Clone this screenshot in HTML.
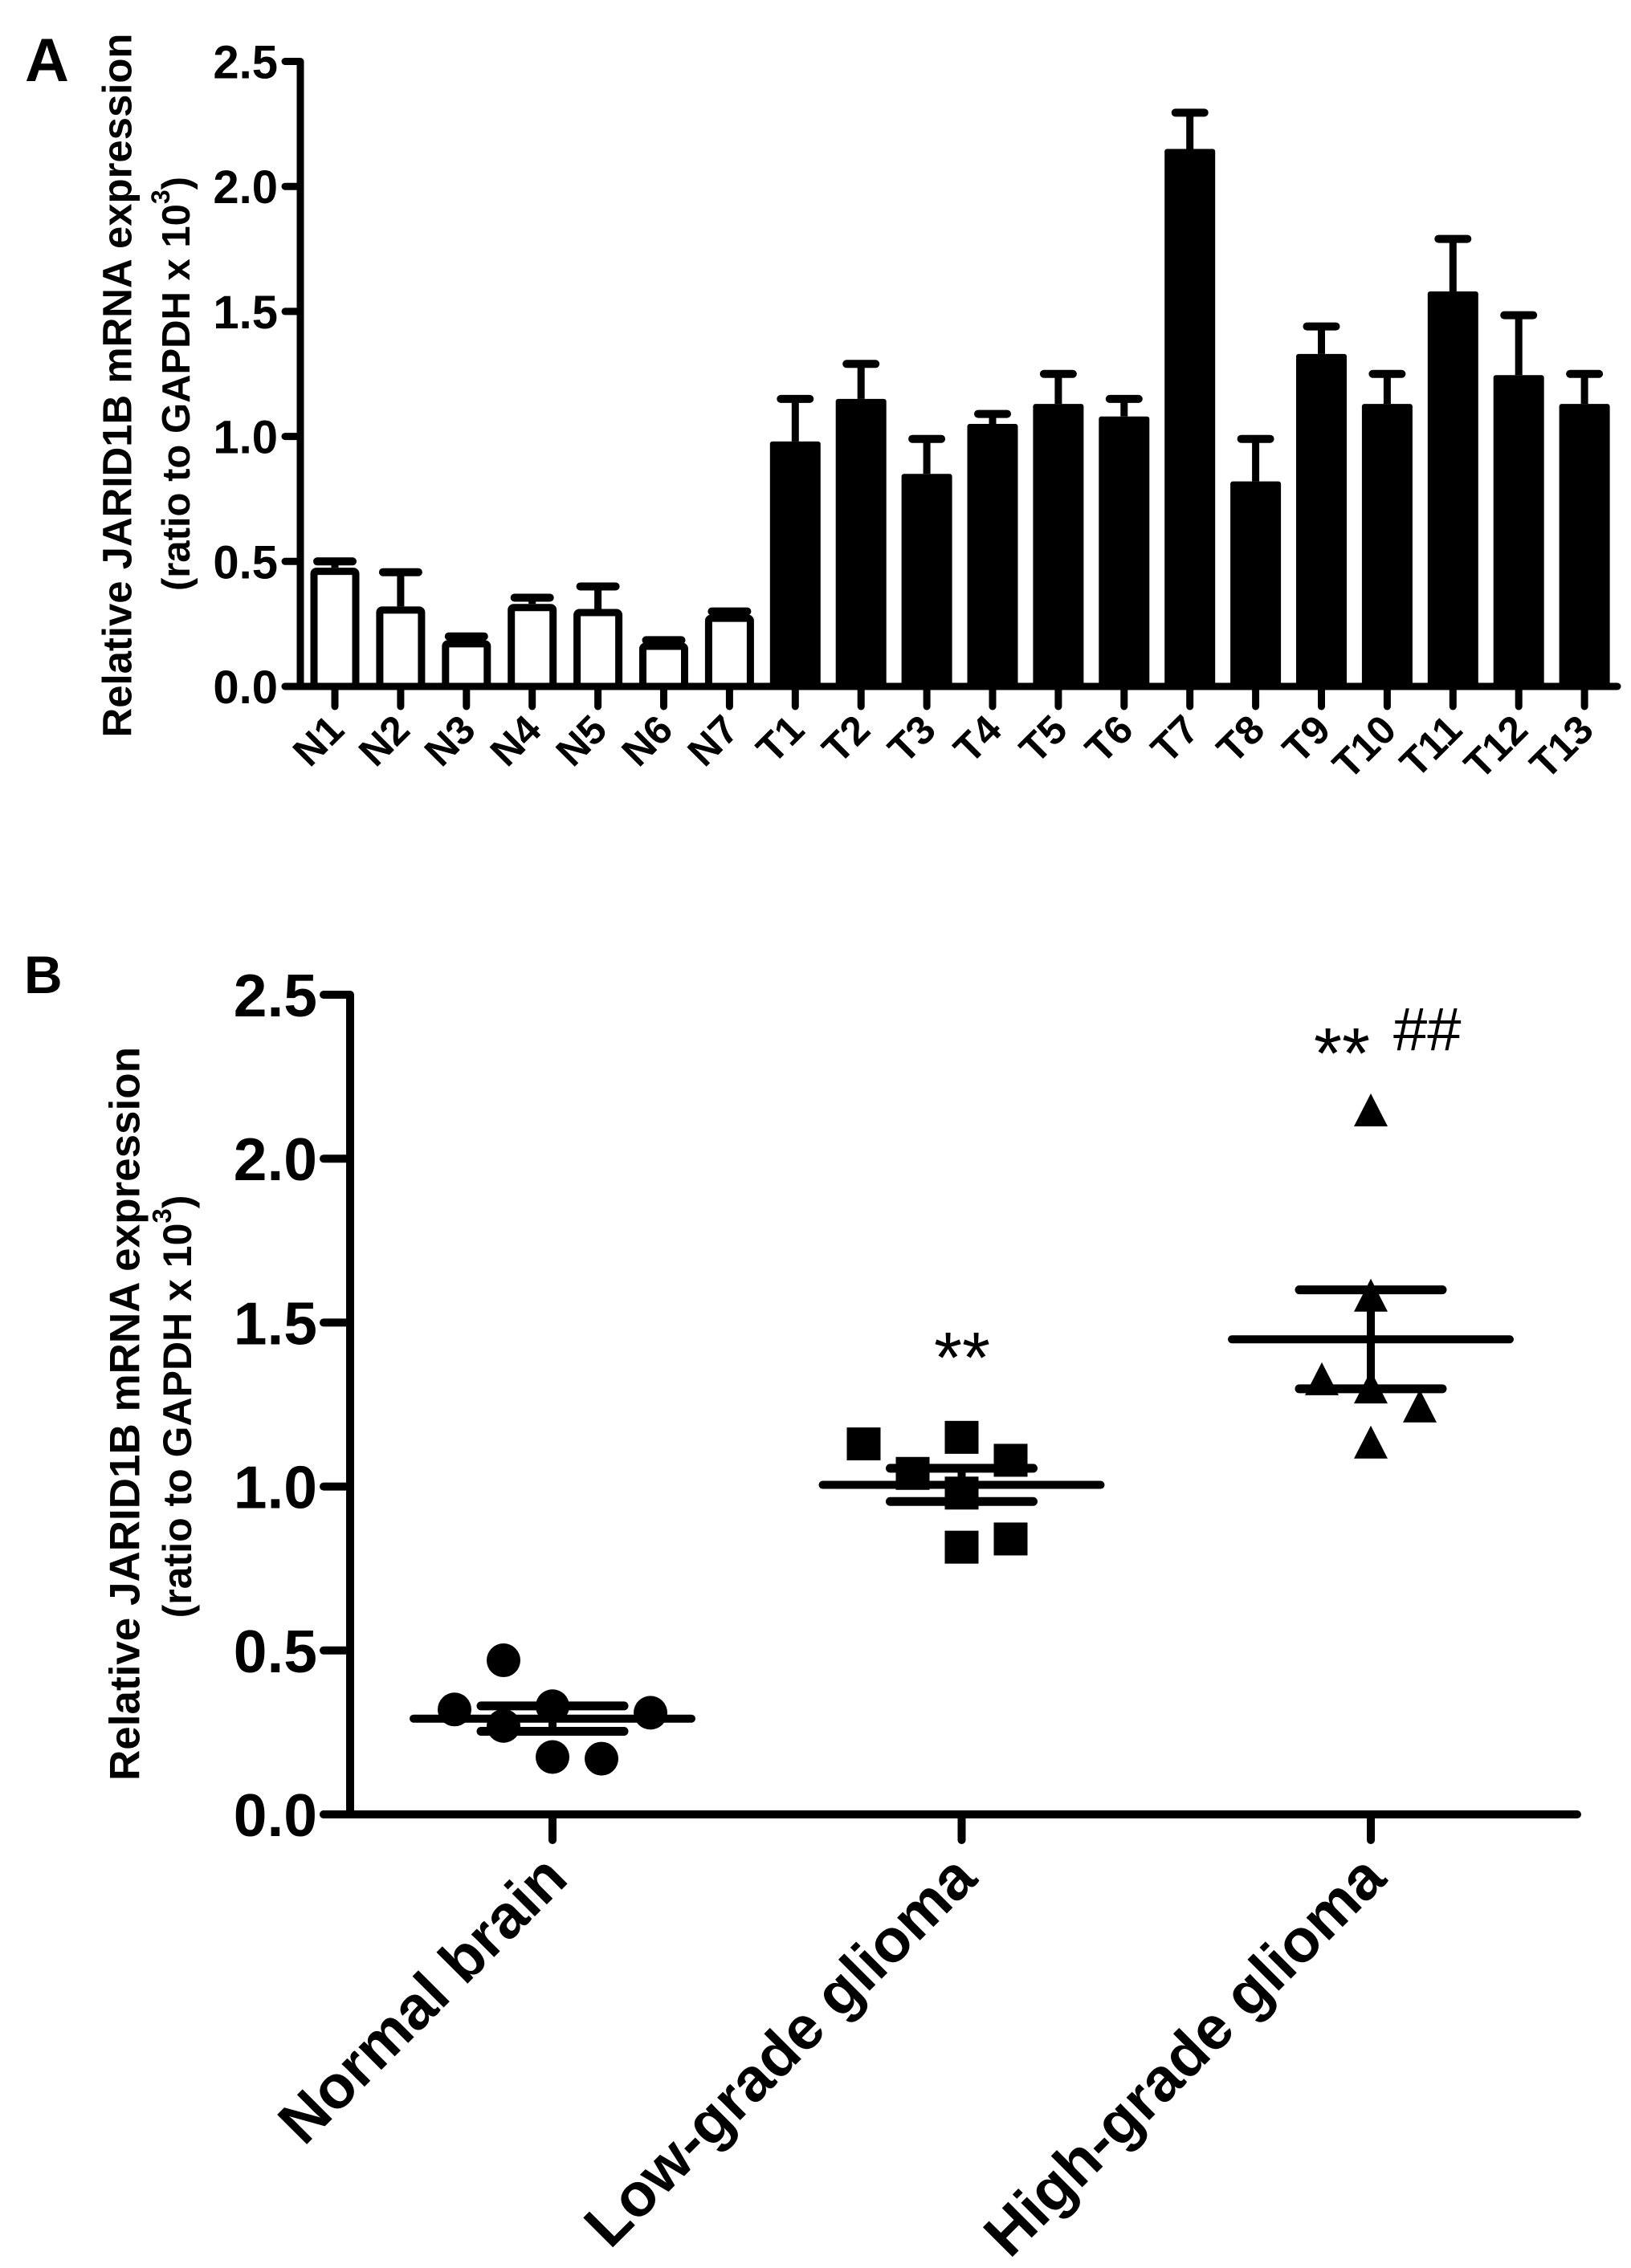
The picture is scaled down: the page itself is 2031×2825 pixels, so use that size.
<!DOCTYPE html>
<html><head><meta charset="utf-8"><style>
html,body{margin:0;padding:0;background:#fff;}
svg{display:block;}
text{font-family:"Liberation Sans",Arial,sans-serif;fill:#000;}
</style></head><body>
<svg id="fig" width="2031" height="2825" viewBox="0 0 2031 2825" xmlns="http://www.w3.org/2000/svg">
<text x="31" y="101" font-size="76" font-weight="bold">A</text>
<text x="30" y="1237" font-size="66" font-weight="bold">B</text>
<g id="chartA"></g>
<g id="chartB"></g>
</svg>
<script>
const barCategories = ["N1","N2","N3","N4","N5","N6","N7","T1","T2","T3","T4","T5","T6","T7","T8","T9","T10","T11","T12","T13"];
const barValues = [0.475,0.32,0.185,0.33,0.31,0.175,0.287,0.98,1.15,0.85,1.05,1.13,1.08,2.15,0.82,1.33,1.13,1.58,1.245,1.13];
const barErrTop = [0.50,0.457,0.20,0.355,0.40,0.185,0.30,1.15,1.29,0.99,1.09,1.25,1.15,2.295,0.99,1.44,1.25,1.79,1.485,1.25];
const barFilled = [0,0,0,0,0,0,0,1,1,1,1,1,1,1,1,1,1,1,1,1];
const yTicks = [0,0.5,1.0,1.5,2.0,2.5];
const yTickLabels = ["0.0","0.5","1.0","1.5","2.0","2.5"];

const groupNames = ["Normal brain","Low-grade glioma","High-grade glioma"];
const normalValues = [0.32,0.47,0.27,0.33,0.175,0.17,0.31];
const normalSlots = [-2,-1,-1,0,0,1,2];
const lowValues = [1.13,1.04,1.15,0.98,0.815,1.08,0.84];
const lowSlots = [-2,-1,0,0,0,1,1];
const highValues = [1.32,2.14,1.575,1.295,1.127,1.237];
const highSlots = [-1,0,0,0,0,1];
const sigLabels = ["","**","**"];

const NS="http://www.w3.org/2000/svg";
function mk(parent,tag,attrs,txt){const e=document.createElementNS(NS,tag);for(const k in attrs)e.setAttribute(k,attrs[k]);if(txt!==undefined)e.textContent=txt;parent.appendChild(e);return e;}

// ---------- Panel A ----------
const A = document.getElementById('chartA');
const aX0=374, aY0=855, aYtop=76.5, aMax=2.5;
const ayS = v => aY0 - v*(aY0-aYtop)/aMax;
const axS = i => 417 + i*81.9;
let el;
el=mk(A,'line',{x1:aX0,y1:aYtop,x2:aX0,y2:aY0,stroke:'#000','stroke-width':9});


el=mk(A,'line',{x1:355,y1:aY0,x2:2014,y2:aY0,stroke:'#000','stroke-width':9,'stroke-linecap':'round'});


yTicks.forEach((t,i)=>{
  const y=ayS(t);
  el=mk(A,'line',{x1:355,y1:y,x2:aX0,y2:y,stroke:'#000','stroke-width':9,'stroke-linecap':'round'});
  
  
  el=mk(A,'text',{x:346,y:y+21,'font-size':58,'font-weight':'bold','text-anchor':'end'},yTickLabels[i]);
  
  
});
barCategories.forEach((c,i)=>{
  const cx=axS(i), yv=ayS(barValues[i]), ye=ayS(barErrTop[i]);
  const capW = barFilled[i]?36:44;
  el=mk(A,'line',{x1:cx,y1:yv,x2:cx,y2:ye,stroke:'#000','stroke-width':9});
  
  
  el=mk(A,'line',{x1:cx-capW/2,y1:ye,x2:cx+capW/2,y2:ye,stroke:'#000','stroke-width':10,'stroke-linecap':'round'});
  
  
  if(barFilled[i]){
    el=mk(A,'rect',{x:cx-31.5,y:yv,width:63,height:aY0-yv,fill:'#000',rx:3});
  } else {
    el=mk(A,'rect',{x:cx-26,y:yv+4.5,width:52,height:aY0-yv-4.5,fill:'#fff',stroke:'#000','stroke-width':9,rx:3});
  }
  
  
  el=mk(A,'line',{x1:cx,y1:aY0,x2:cx,y2:880,stroke:'#000','stroke-width':9,'stroke-linecap':'round'});
  
  
  el=mk(A,'text',{x:cx+14,y:912,'font-size':50,'font-weight':'bold','text-anchor':'end',transform:`rotate(-45 ${cx+14} 912)`},c);
  
  
});
el=mk(A,'text',{x:0,y:0,'font-size':51,'font-weight':'bold','text-anchor':'middle','dominant-baseline':'central',transform:'translate(146 480) rotate(-90)',textLength:877,lengthAdjust:'spacingAndGlyphs'},'Relative JARID1B mRNA expression');


el=mk(A,'text',{x:0,y:0,'font-size':49,'font-weight':'bold','text-anchor':'middle','dominant-baseline':'central',transform:'translate(220 478) rotate(-90)'});


mk(el,'tspan',{},'(ratio to  GAPDH x 10');
mk(el,'tspan',{'font-size':32,dy:-20},'3');
mk(el,'tspan',{dy:20},')');

// ---------- Panel B ----------
const B = document.getElementById('chartB');
const bX0=436, bY0=2260, bYtop=1239, bMax=2.5;
const byS = v => bY0 - v*(bY0-bYtop)/bMax;
const bxS = i => 688 + i*509.5;
const slotW = 61;
el=mk(B,'line',{x1:bX0,y1:bYtop,x2:bX0,y2:bY0,stroke:'#000','stroke-width':10});


el=mk(B,'line',{x1:403,y1:bY0,x2:1964,y2:bY0,stroke:'#000','stroke-width':10,'stroke-linecap':'round'});


yTicks.forEach((t,i)=>{
  const y=byS(t);
  el=mk(B,'line',{x1:403,y1:y,x2:bX0,y2:y,stroke:'#000','stroke-width':10,'stroke-linecap':'round'});
  
  
  el=mk(B,'text',{x:395,y:y+27,'font-size':75,'font-weight':'bold','text-anchor':'end'},yTickLabels[i]);
  
  
});
el=mk(B,'text',{x:0,y:0,'font-size':53,'font-weight':'bold','text-anchor':'middle','dominant-baseline':'central',transform:'translate(156 1761) rotate(-90)',textLength:914,lengthAdjust:'spacingAndGlyphs'},'Relative JARID1B mRNA expression');


el=mk(B,'text',{x:0,y:0,'font-size':50,'font-weight':'bold','text-anchor':'middle','dominant-baseline':'central',transform:'translate(221 1752) rotate(-90)'});


mk(el,'tspan',{},'(ratio to  GAPDH x 10');
mk(el,'tspan',{'font-size':33,dy:-20},'3');
mk(el,'tspan',{dy:20},')');

const groups=[[normalValues,normalSlots,'circle'],[lowValues,lowSlots,'square'],[highValues,highSlots,'triangle']];
groups.forEach((g,gi)=>{
  const [vals,slots,shape]=g;
  const cx=bxS(gi);
  const n=vals.length, mean=vals.reduce((a,b)=>a+b,0)/n;
  const sd=Math.sqrt(vals.reduce((a,b)=>a+(b-mean)*(b-mean),0)/(n-1)), sem=sd/Math.sqrt(n);
  vals.forEach((v,i)=>{
    const x=cx+slots[i]*slotW, y=byS(v);
    if(shape==='circle') el=mk(B,'circle',{cx:x,cy:y,r:21,fill:'#000'});
    else if(shape==='square') el=mk(B,'rect',{x:x-21,y:y-20.5,width:42,height:41,fill:'#000'});
    else el=mk(B,'polygon',{points:`${x},${y-24} ${x-21},${y+17} ${x+21},${y+17}`,fill:'#000'});
    
    
  });
  el=mk(B,'line',{x1:cx,y1:byS(mean+sem),x2:cx,y2:byS(mean-sem),stroke:'#000','stroke-width':10});
  
  
  el=mk(B,'line',{x1:cx-173,y1:byS(mean),x2:cx+173,y2:byS(mean),stroke:'#000','stroke-width':10,'stroke-linecap':'round'});
  
  
  [mean+sem,mean-sem].forEach(s=>{
    el=mk(B,'line',{x1:cx-89,y1:byS(s),x2:cx+89,y2:byS(s),stroke:'#000','stroke-width':11,'stroke-linecap':'round'});
    
    
  });
  el=mk(B,'line',{x1:cx,y1:bY0,x2:cx,y2:2292,stroke:'#000','stroke-width':10,'stroke-linecap':'round'});
  
  
  el=mk(B,'text',{x:cx+22,y:2343,'font-size':76,'font-weight':'bold','text-anchor':'end',transform:`rotate(-45 ${cx+22} 2343)`},groupNames[gi]);
  
  
});
el=mk(B,'text',{x:1163,y:1722,'font-size':90},sigLabels[1]);


el=mk(B,'text',{x:1636,y:1343,'font-size':90},sigLabels[2]);


el=mk(B,'text',{x:1735,y:1308,'font-size':76},'##');


</script>
</body></html>
